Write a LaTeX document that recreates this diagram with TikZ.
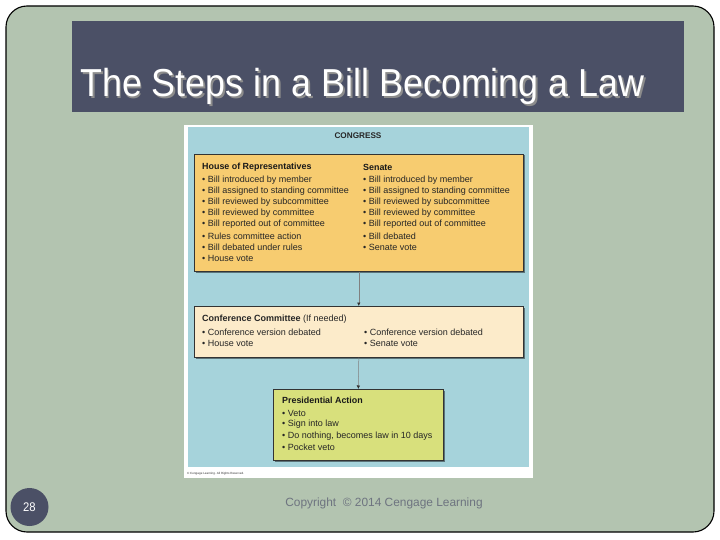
\documentclass[tikz,border=0pt]{standalone}
\usepackage{fontspec}
\setmainfont{Liberation Sans}
\usetikzlibrary{arrows.meta,shadows}
\definecolor{slidegreen}{HTML}{B3C4B0}
\definecolor{titlebar}{HTML}{4B5066}
\definecolor{figblue}{HTML}{A6D3DB}
\definecolor{boxorange}{HTML}{F7CC70}
\definecolor{boxcream}{HTML}{FCEBCA}
\definecolor{boxlime}{HTML}{D8E07C}
\definecolor{footgray}{HTML}{6E7480}
\newcommand{\shadowedtitle}[1]{\rlap{\hspace{2pt}\raisebox{-2pt}{\textcolor{black!45}{#1}}}\textcolor{white}{#1}}
\tikzset{
  stagebox/.style={draw=black!80, line width=0.6pt, anchor=north west, inner sep=0pt,
    drop shadow={shadow xshift=1.2pt, shadow yshift=-1.2pt, opacity=0.45, fill=black}},
  itemtxt/.style={anchor=west, inner sep=0pt, font=\fontsize{9}{10}\selectfont, text=black!85},
  headtxt/.style={anchor=west, inner sep=0pt, font=\fontsize{8.9}{10}\selectfont\bfseries, text=black!90},
  titletxt/.style={anchor=base west, inner sep=0pt, font=\fontsize{39}{42}\selectfont, xscale=0.92},
  flow/.style={draw=black!50, line width=0.5pt, -{Latex[length=3.5pt,width=3.5pt,color=black!80]}}
}
\begin{document}
\begin{tikzpicture}[x=1pt,y=-1pt]
\useasboundingbox (0,0) rectangle (720,540);
\fill[white] (0,0) rectangle (720,540);
% slide frame
\draw[fill=slidegreen, draw=black, line width=1.1pt, rounded corners=21pt] (6,6) rectangle (714,532);
% title bar
\fill[titlebar] (72,21) rectangle (684,112);
\node[titletxt] (title) at (80,97) {\shadowedtitle{The Steps in a Bill Becoming a Law}};
% figure
\fill[white] (184,125) rectangle (533,478);
\fill[figblue] (188,127) rectangle (529,467);
\node[anchor=center, inner sep=0pt, font=\fontsize{8.2}{9}\selectfont\bfseries, text=black!85] (congress) at (358,136) {CONGRESS};
% boxes
\node[stagebox, fill=boxorange, minimum width=329pt, minimum height=117pt] (house) at (194,154) {};
\node[stagebox, fill=boxcream, minimum width=329pt, minimum height=51pt] (conf) at (194,306) {};
\node[stagebox, fill=boxlime, minimum width=170pt, minimum height=71pt] (pres) at (273,389) {};
% arrows
\draw[flow] (house.south) -- (conf.north);
\draw[flow] (conf.south) -- (pres.north);
% house text
\node[headtxt] (hh) at (202,167) {House of Representatives};
\node[itemtxt] at (202,180) {• Bill introduced by member};
\node[itemtxt] at (202,191) {• Bill assigned to standing committee};
\node[itemtxt] at (202,202) {• Bill reviewed by subcommittee};
\node[itemtxt] at (202,213.5) {• Bill reviewed by committee};
\node[itemtxt] at (202,224.5) {• Bill reported out of committee};
\node[itemtxt] at (202,236) {• Rules committee action};
\node[itemtxt] at (202,247) {• Bill debated under rules};
\node[itemtxt] at (202,258) {• House vote};
% senate text
\node[headtxt] (sh) at (363,167) {Senate};
\node[itemtxt] at (363,180) {• Bill introduced by member};
\node[itemtxt] at (363,191) {• Bill assigned to standing committee};
\node[itemtxt] at (363,202) {• Bill reviewed by subcommittee};
\node[itemtxt] at (363,213.5) {• Bill reviewed by committee};
\node[itemtxt] at (363,224.5) {• Bill reported out of committee};
\node[itemtxt] at (363,236) {• Bill debated};
\node[itemtxt] at (363,247) {• Senate vote};
% conference text
\node[itemtxt] (ch) at (202,319) {\textbf{Conference Committee} (If needed)};
\node[itemtxt] at (202,332) {• Conference version debated};
\node[itemtxt] at (202,343) {• House vote};
\node[itemtxt] at (364,332) {• Conference version debated};
\node[itemtxt] at (364,343) {• Senate vote};
% presidential text
\node[headtxt] (ph) at (282,400) {Presidential Action};
\node[itemtxt] at (282,413) {• Veto};
\node[itemtxt] at (282,424) {• Sign into law};
\node[itemtxt] at (282,436) {• Do nothing, becomes law in 10 days};
\node[itemtxt] at (282,447) {• Pocket veto};
% tiny credit
\node[anchor=west, inner sep=0pt, font=\fontsize{3}{3.5}\selectfont, text=black!80] (credit) at (187,474) {© Cengage Learning. All Rights Reserved.};
% page number
\fill[titlebar] (29.5,507) circle (19);
\node[inner sep=0pt, font=\fontsize{12.5}{14}\selectfont, text=white, xscale=0.9] (pg) at (29.5,507.5) {28};
% footer
\node[anchor=center, inner sep=0pt, font=\fontsize{11.9}{13}\selectfont, text=footgray] (foot) at (384,503.5) {Copyright \ © 2014 Cengage Learning};
\end{tikzpicture}
\end{document}
